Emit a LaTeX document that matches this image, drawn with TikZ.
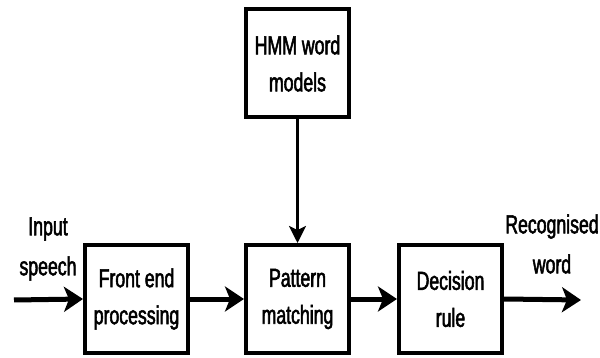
\documentclass[tikz,border=0pt]{standalone}
\usepackage{fontspec}
\setmainfont[FakeStretch=0.68,FakeBold=2]{Liberation Sans}
\usetikzlibrary{arrows.meta}
\begin{document}
\begin{tikzpicture}[x=1pt,y=-1pt,
  blk/.style={draw=black,line width=4pt,minimum width=103pt,minimum height=108pt,
    inner sep=0pt,align=center,font=\fontsize{26}{37}\selectfont},
  lbl/.style={align=center,font=\fontsize{26}{40}\selectfont},
  bigarrow/.style={line width=5pt,-{Stealth[length=19pt,width=25pt,inset=5pt]}},
  thinarrow/.style={line width=2.6pt,-{Stealth[length=17pt,width=17pt,inset=4pt]}}]
\useasboundingbox (0,0) rectangle (600,358);
\node[blk] (fe) at (136.5,299) {Front end\\processing};
\node[blk] (pm) at (297.5,299) {Pattern\\matching};
\node[blk] (hmm) at (297.5,63.5) {HMM word\\models};
\node[blk] (dr) at (450.5,299) {Decision\\rule};
\coordinate (in) at (14,300);
\coordinate (out) at (581,300);
\node[lbl] (inl) at (48,249) {Input\\speech};
\node[lbl] (outl) at (552,244) {Recognised\\word};
\draw[bigarrow] (in) -- (fe.west);
\draw[bigarrow] (fe.east) -- (pm.west);
\draw[bigarrow] (pm.east) -- (dr.west);
\draw[bigarrow] (dr.east) -- (out);
\draw[thinarrow] (hmm.south) -- (pm.north);
\end{tikzpicture}
\end{document}
